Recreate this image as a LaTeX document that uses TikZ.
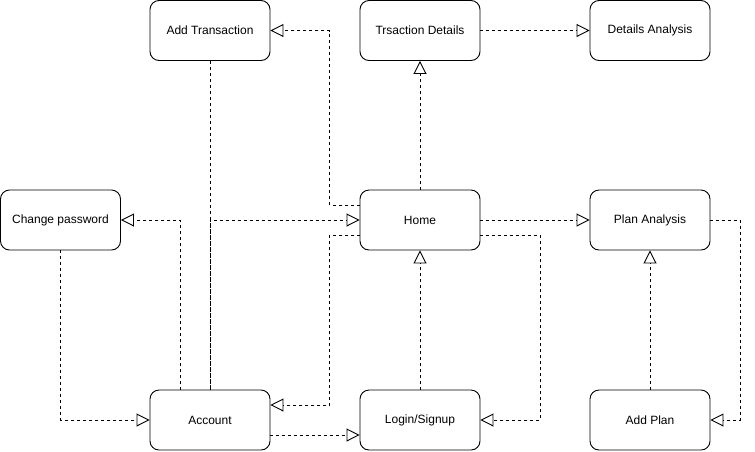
\documentclass[tikz,border=0pt]{standalone}
\usepackage{fontspec}
\setmainfont{Liberation Sans}
\usetikzlibrary{arrows.meta}
\begin{document}
\begin{tikzpicture}[x=1pt,y=-1pt,
  box/.style={draw, rounded corners=9pt, minimum width=120pt, minimum height=60pt, line width=0.9pt, font=\fontsize{12}{14}\selectfont, inner sep=0pt},
  plainlink/.style={draw, line width=0.8pt, dash pattern=on 3pt off 3pt},
  link/.style={plainlink, -{Triangle[open, length=13pt, width=13pt, line width=0.9pt]}}]
\useasboundingbox (0,0) rectangle (755,451);
\node[box] (addt) at (210,30.5) {Add Transaction};
\node[box] (td) at (420,30.5) {Trsaction Details};
\node[box] (da) at (650,30.5) {Details Analysis};
\node[box] (cp) at (60.5,220) {Change password};
\node[box] (home) at (420,220) {Home};
\node[box] (pa) at (650,220) {Plan Analysis};
\node[box] (acc) at (210,420) {Account};
\node[box] (login) at (420,420) {Login/Signup};
\node[box] (ap) at (650,420) {Add Plan};

\draw[link] ([yshift=15pt]home.west) -- ++(-30,0) |- (addt.east);
\draw[link] (home.north) -- (td.south);
\draw[link] (td.east) -- (da.west);
\draw[plainlink] (addt.south) -- (acc.north);
\draw[link] (acc.north) |- (home.west);
\draw[link] ([xshift=-30pt]acc.north) |- (cp.east);
\draw[link] (cp.south) |- (acc.west);
\draw[link] ([yshift=-15pt]home.west) -- ++(-30,0) |- ([yshift=15pt]acc.east);
\draw[link] ([yshift=-15pt]acc.east) -- ([yshift=-15pt]login.west);
\draw[link] (login.north) -- (home.south);
\draw[link] ([yshift=-15pt]home.east) -- ++(60,0) |- (login.east);
\draw[link] (home.east) -- (pa.west);
\draw[link] (ap.north) -- (pa.south);
\draw[link] (pa.east) -- ++(30,0) |- (ap.east);
\end{tikzpicture}
\end{document}
